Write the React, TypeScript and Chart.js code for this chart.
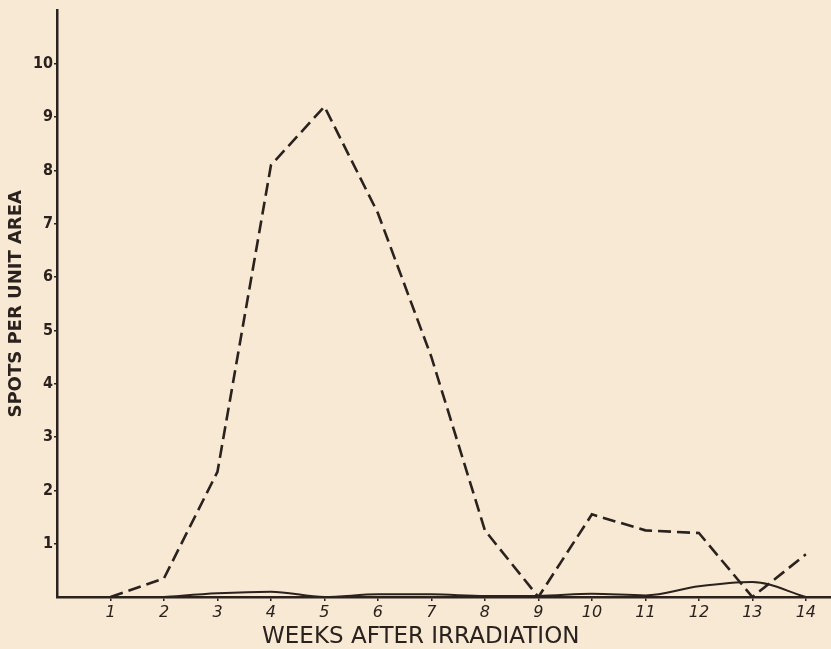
import React, { useEffect, useRef } from "react";
import { Chart, registerables } from "chart.js";

Chart.register(...registerables);

const weeks = [1, 2, 3, 4, 5, 6, 7, 8, 9, 10, 11, 12, 13, 14];
const dashedSeries = [0, 0.35, 2.35, 8.1, 9.2, 7.2, 4.5, 1.25, 0, 1.55, 1.25, 1.2, 0, 0.8];
const solidWeeks = [2, 3, 4, 5, 6, 7, 8, 9, 10, 11, 12, 13, 14];
const solidSeries = [0, 0.07, 0.1, 0.0, 0.05, 0.05, 0.02, 0.02, 0.06, 0.03, 0.2, 0.28, 0];
const yTickValues = [1, 2, 3, 4, 5, 6, 7, 8, 9, 10];
const yTickLabels = ["1", "2", "3", "4", "5", "6", "7", "8", "9", "10"];
const xTickLabels = weeks.map(String);
const xTitle = "WEEKS AFTER IRRADIATION";
const yTitle = "SPOTS PER UNIT AREA";

const INK = "#2b211d";
const BG = "#f7e9d4";

export default function App() {
  const ref = useRef<HTMLCanvasElement | null>(null);
  useEffect(() => {
    document.body.style.margin = "0";
    document.body.style.background = BG;
    const canvas = ref.current!;
    const bgPlugin = {
      id: "bg",
      beforeDraw(chart: any) {
        const c = chart.ctx;
        c.save();
        c.fillStyle = BG;
        c.fillRect(0, 0, chart.width, chart.height);
        c.restore();
      },
      afterDraw(chart: any) {
        const c = chart.ctx;
        const a = chart.chartArea;
        c.save();
        c.fillStyle = INK;
        c.font = "23px 'DejaVu Sans', sans-serif";
        c.textAlign = "center";
        c.textBaseline = "middle";
        c.fillText(xTitle, a.left + (a.right - a.left) * 0.47, a.bottom + 40);
        c.restore();
      },
    };
    const chart = new Chart(canvas, {
      type: "line",
      data: {
        datasets: [
          {
            data: weeks.map((w, i) => ({ x: w, y: dashedSeries[i] })),
            borderColor: INK,
            borderWidth: 2.6,
            borderDash: [13, 6],
            pointRadius: 0,
            tension: 0,
          },
          {
            data: solidWeeks.map((w, i) => ({ x: w, y: solidSeries[i] })),
            borderColor: INK,
            borderWidth: 2,
            pointRadius: 0,
            cubicInterpolationMode: "monotone",
          },
        ],
      },
      plugins: [bgPlugin],
      options: {
        animation: false,
        responsive: false,
        maintainAspectRatio: false,
        layout: { padding: { top: 8, right: 0, left: 0, bottom: 0 } },
        plugins: { legend: { display: false }, tooltip: { enabled: false } },
        scales: {
          x: {
            type: "linear",
            min: 0,
            max: 14.47,
            afterFit(s: any) {
              s.height = 52;
            },
            afterBuildTicks(s: any) {
              s.ticks = weeks.map((v) => ({ value: v }));
            },
            border: { display: true, color: INK, width: 2.5 },
            grid: { display: true, drawOnChartArea: false, tickLength: 4, color: INK, lineWidth: 1.5 },
            ticks: {
              autoSkip: false,
              maxRotation: 0,
              padding: 2,
              color: INK,
              font: { family: "'DejaVu Sans', sans-serif", size: 16, style: "italic" },
              callback: (v: any) => {
                const i = weeks.indexOf(Number(v));
                return i >= 0 ? xTickLabels[i] : "";
              },
            },
          },
          y: {
            type: "linear",
            min: 0,
            max: 11,
            afterFit(s: any) {
              s.width = 57;
            },
            afterBuildTicks(s: any) {
              s.ticks = yTickValues.map((v) => ({ value: v }));
            },
            border: { display: true, color: INK, width: 2.5 },
            grid: { display: true, drawOnChartArea: false, tickLength: 3, color: INK, lineWidth: 1.5 },
            title: {
              display: true,
              text: yTitle,
              color: INK,
              padding: { top: 6, bottom: 0 },
              font: { family: "'DejaVu Sans', sans-serif", size: 18, weight: "bold" },
            },
            ticks: {
              autoSkip: false,
              padding: 1,
              color: INK,
              font: { family: "'DejaVu Sans Condensed', 'DejaVu Sans', sans-serif", size: 16, weight: "bold" },
              callback: (v: any) => {
                const i = yTickValues.indexOf(Number(v));
                return i >= 0 ? yTickLabels[i] : "";
              },
            },
          },
        },
      },
    } as any);
    return () => chart.destroy();
  }, []);
  return <canvas ref={ref} width={831} height={649} style={{ display: "block" }} />;
}
